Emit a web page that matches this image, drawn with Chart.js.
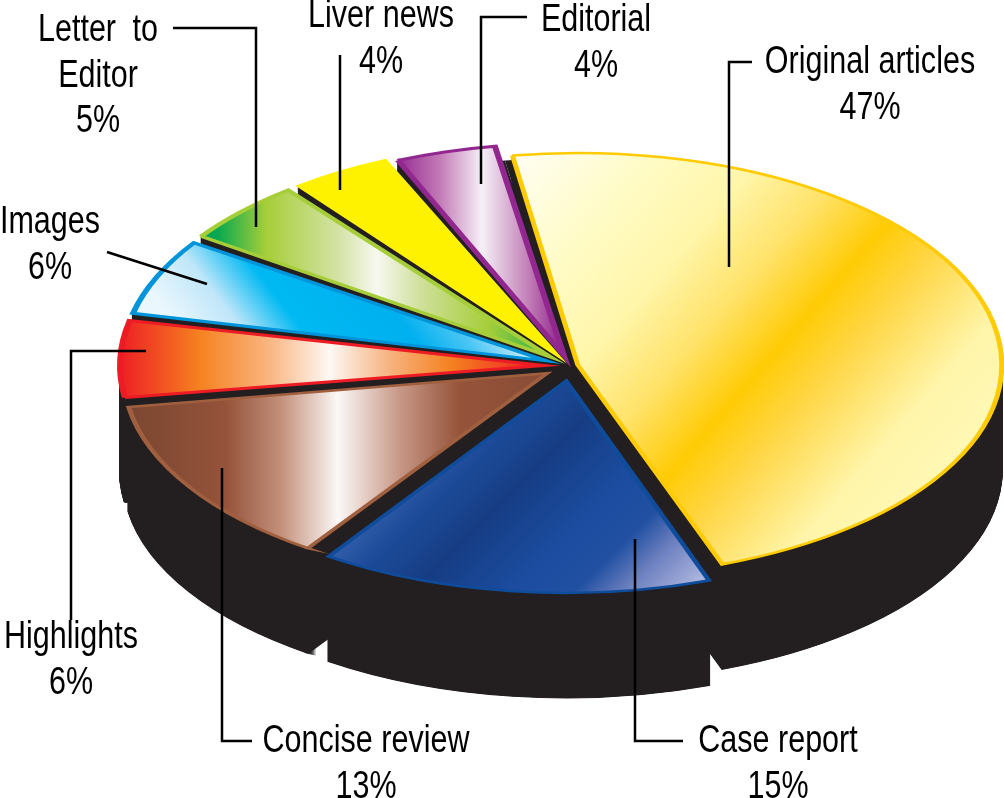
<!DOCTYPE html>
<html>
<head>
<meta charset="utf-8">
<title>Article types</title>
<script src="https://cdn.jsdelivr.net/npm/chart.js@4/dist/chart.umd.min.js"></script>
<style>
    html, body { margin: 0; padding: 0; background: #fff; }
    canvas { display: block; }
</style>
</head>
<body>
<canvas id="pie" width="1004" height="798"></canvas>
<script>
'use strict';

// Chart data, clockwise from the top
const categories = ['Original articles', 'Case report', 'Concise review', 'Highlights', 'Images', 'Letter to Editor', 'Liver news', 'Editorial'];
const shares = [47, 15, 13, 6, 6, 5, 4, 4];
const labelLines = [['Original articles'], ['Case report'], ['Concise review'], ['Highlights'], ['Images'], ['Letter to', 'Editor'], ['Liver news'], ['Editorial']];

// Pie look
const rotationDeg = -9;
const radius = 424;
const squash = 0.5;
const depth = 105;
const centerX = 570;
const centerY = 366;
const sideColor = '#231f20';
const explode = [8, 30, 27, 26, 26, 27, 27, 22];
const borderColors = ['#ffcb05', '#0f4c9c', '#a0603f', '#ed1c24', '#0095da', '#a6ce39', '#fff200', '#92278f'];
const borderWidths = [5, 5, 5, 6, 6, 6, 5, 6];

const canvas = document.getElementById('pie');
const ctx = canvas.getContext('2d');
const plotCenterY = canvas.height / 2;

/**
 * Linear gradient given in page pixels, converted to the squashed space of the slice
 */
function sliceGradient(index, x0, y0, x1, y1, stops) {
    const before = shares.slice(0, index).reduce((a, b) => a + b, 0);
    const mid = (rotationDeg - 90 + (before + shares[index] / 2) * 3.6) * Math.PI / 180;
    const shiftX = Math.cos(mid) * explode[index];
    const shiftY = Math.sin(mid) * explode[index];

    const dx = x1 - x0;
    const dy = y1 - y0;
    const len2 = dx * dx + dy * dy;
    const gx = dx / len2;
    const gy = squash * dy / len2;
    const g2 = gx * gx + gy * gy;

    const u0 = x0 - shiftX;
    const v0 = plotCenterY + (y0 - centerY) / squash - shiftY;
    const gradient = ctx.createLinearGradient(u0, v0, u0 + gx / g2, v0 + gy / g2);
    stops.forEach(s => gradient.addColorStop(s[0], s[1]));
    return gradient;
}

const fills = [
    sliceGradient(0, 520, 160, 915, 502, [[0, '#fffef0'], [0.195, '#fffbc4'], [0.345, '#fff6aa'], [0.483, '#ffe268'], [0.61, '#ffcb05'], [0.713, '#ffd645'], [0.885, '#fff5aa'], [1, '#fff8b4']]),
    sliceGradient(1, 440, 437, 641, 638, [[0, '#3560ad'], [0.14, '#1c4a98'], [0.316, '#163d84'], [0.56, '#1b4c9f'], [0.72, '#2150a2'], [0.84, '#6c7fbf'], [1, '#aab4dd']]),
    sliceGradient(2, 125, 0, 545, 0, [[0, '#7a4630'], [0.24, '#95533a'], [0.37, '#c38f7a'], [0.507, '#fbf8f6'], [0.655, '#c79785'], [0.798, '#95533a'], [1, '#8a4d36']]),
    sliceGradient(3, 118, 0, 540, 0, [[0, '#ed1c24'], [0.194, '#f58220'], [0.36, '#f9b682'], [0.502, '#fdf8f4'], [0.645, '#f7b27e'], [0.787, '#f58220'], [1, '#ed1c24']]),
    sliceGradient(4, 150, 290, 355, 131, [[0, '#eaf7fd'], [0.19, '#bfe6f9'], [0.37, '#00b9f2'], [0.69, '#00b0ef'], [0.85, '#4cc6f4'], [1, '#c8ebfb']]),
    sliceGradient(5, 215, 0, 540, 0, [[0, '#00a651'], [0.157, '#a6ce39'], [0.385, '#d5e3a8'], [0.498, '#f7f8f0'], [0.63, '#d0e09c'], [0.84, '#a6ce39'], [1, '#39b54a']]),
    '#fff200',
    sliceGradient(7, 395, 0, 560, 0, [[0, '#92278f'], [0.27, '#c27ab6'], [0.527, '#f6f0f7'], [0.82, '#c07ab5'], [1, '#92278f']])
];

// Label anchors: x centre, first baseline, leader line
const labelLayout = [
    { x: 870, y: 73, leader: [[752, 62], [729, 62], [729, 267]] },
    { x: 778, y: 752, leader: [[635, 539], [635, 741], [683, 741]] },
    { x: 366, y: 752, leader: [[222, 468], [222, 741], [252, 741]] },
    { x: 71, y: 648, leader: [[146, 351], [71, 351], [71, 620]] },
    { x: 50, y: 233, leader: [[107, 252], [207, 284]] },
    { x: 98, y: 41, wordSpacing: '10px', leader: [[173, 28], [256, 28], [256, 227]] },
    { x: 381, y: 27, leader: [[340, 55], [340, 190]] },
    { x: 596, y: 31, leader: [[527, 17], [481, 17], [481, 184]] }
];
const lineGap = 45.5;
const fontSize = 38;
const textSqueeze = 0.803;

/**
 * Draw every arc once in black, with some option overrides
 */
function drawBlackArcs(arcs, chartCtx, overrides) {
    arcs.forEach(arc => {
        const saved = arc.options;
        arc.options = Object.assign(Object.create(saved), { backgroundColor: sideColor, borderColor: sideColor, borderWidth: 0 }, overrides);
        arc.draw(chartCtx);
        arc.options = saved;
    });
}

// Tilts the pie and puts the black side wall and backing under the slices
const tiltPlugin = {
    id: 'tilt',
    beforeDatasetsDraw(chart) {
        const c = chart.ctx;
        const arcs = chart.getDatasetMeta(0).data;

        c.save();
        c.translate(0, centerY);
        c.scale(1, squash);
        c.translate(0, -plotCenterY);

        // Chart.js widens an exploded arc, keep all slices on one radius
        arcs.forEach((arc, i) => {
            const fix = 1 - Math.sin(Math.min(Math.PI, arc.circumference));
            arc.outerRadius = radius - explode[i] * fix;
        });

        for (let d = depth; d > 0; d -= 0.5) {
            c.save();
            c.translate(0, d / squash);
            drawBlackArcs(arcs, c, { borderWidth: 2 });
            c.restore();
        }

        // Backing that shows through the gaps between the slices
        const radii = arcs.map(arc => arc.outerRadius);
        arcs.forEach(arc => { arc.outerRadius = radius - 8; });
        drawBlackArcs(arcs, c, { offset: 0 });
        arcs.forEach((arc, i) => { arc.outerRadius = radii[i]; });

        // All those overlapping edges drift the colour, so repaint it flat
        c.save();
        c.setTransform(1, 0, 0, 1, 0, 0);
        c.globalCompositeOperation = 'source-atop';
        c.fillStyle = sideColor;
        c.fillRect(0, 0, canvas.width, canvas.height);
        c.restore();
    },
    afterDatasetsDraw(chart) {
        chart.ctx.restore();
    }
};

// Category names, percentages and leader lines
const labelPlugin = {
    id: 'pieLabels',
    afterDraw(chart) {
        const c = chart.ctx;
        c.save();
        c.strokeStyle = '#000';
        c.lineWidth = 2.5;
        c.lineJoin = 'miter';
        labelLayout.forEach(item => {
            c.beginPath();
            item.leader.forEach((p, i) => (i ? c.lineTo(p[0], p[1]) : c.moveTo(p[0], p[1])));
            c.stroke();
        });

        c.fillStyle = '#000';
        c.font = fontSize + 'px "Liberation Sans", Arial, sans-serif';
        c.textAlign = 'center';
        c.textBaseline = 'alphabetic';
        labelLayout.forEach((item, i) => {
            const lines = labelLines[i].concat(shares[i] + '%');
            c.wordSpacing = item.wordSpacing || '0px';
            lines.forEach((line, n) => {
                c.save();
                c.translate(item.x, item.y + n * lineGap);
                c.scale(textSqueeze, 1);
                c.fillText(line, 0, 0);
                c.restore();
            });
        });
        c.restore();
    }
};

new Chart(canvas, {
    type: 'pie',
    data: {
        labels: categories,
        datasets: [{
            data: shares,
            backgroundColor: fills,
            borderColor: borderColors,
            borderWidth: borderWidths,
            borderJoinStyle: 'miter',
            offset: explode.map(t => t * 4),
            clip: false
        }]
    },
    options: {
        responsive: false,
        animation: false,
        events: [],
        rotation: rotationDeg,
        radius: radius,
        layout: { padding: { left: 2 * centerX - canvas.width } },
        plugins: { legend: { display: false }, tooltip: { enabled: false } }
    },
    plugins: [tiltPlugin, labelPlugin]
});
</script>
</body>
</html>
